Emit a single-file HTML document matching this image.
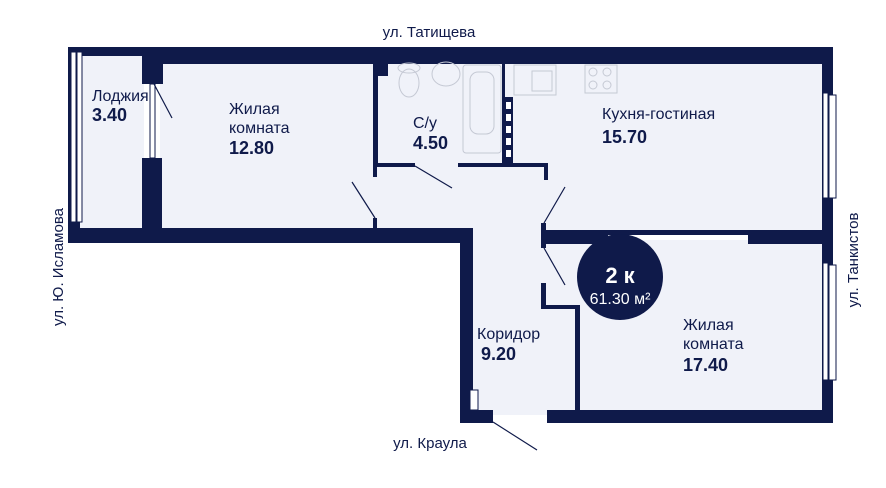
<!DOCTYPE html>
<html><head><meta charset="utf-8"><style>
html,body{margin:0;padding:0;background:#fff;}
svg{display:block;}
text{font-family:"Liberation Sans","DejaVu Sans",sans-serif;fill:#0f1a4a;}
</style></head><body>
<svg width="886" height="488" viewBox="0 0 886 488" xmlns="http://www.w3.org/2000/svg">
<rect width="886" height="488" fill="#fff"/>
<!-- floors -->
<g fill="#f0f2f9">
<rect x="78" y="56" width="66" height="172"/>
<rect x="160" y="62" width="665" height="170"/>
<rect x="470" y="225" width="110" height="190"/>
<rect x="575" y="240" width="250" height="172"/>
</g>
<g fill="#0f1a4a">
<rect x="68" y="47" width="765" height="9"/>
<rect x="142" y="47" width="691" height="17"/>
<rect x="68" y="47" width="12" height="196"/>
<rect x="68" y="228" width="405" height="15"/>
<rect x="142" y="56" width="21" height="28"/>
<rect x="142" y="158" width="20" height="72"/>
<rect x="373" y="62" width="5" height="105"/>
<rect x="378" y="62" width="10" height="14"/>
<rect x="373" y="163" width="42" height="4"/>
<rect x="458" y="163" width="90" height="4"/>
<rect x="544" y="163" width="4" height="17"/>
<rect x="373" y="167" width="4" height="10"/>
<rect x="373" y="218" width="4" height="12"/>
<rect x="502" y="62" width="3" height="103"/>
<rect x="505" y="97" width="8" height="68"/>
<rect x="460" y="228" width="13" height="195"/>
<rect x="460" y="410" width="33" height="13"/>
<rect x="547" y="410" width="286" height="13"/>
<rect x="822" y="47" width="11" height="376"/>
<rect x="541" y="230" width="67" height="14"/>
<rect x="608" y="230" width="140" height="5"/>
<rect x="748" y="230" width="85" height="14"/>
<rect x="541" y="223" width="5" height="25"/>
<rect x="541" y="283" width="5" height="26"/>
<rect x="541" y="305" width="39" height="4"/>
<rect x="575" y="305" width="5" height="110"/>
</g>
<!-- windows -->
<g fill="#fff" stroke="#0f1a4a" stroke-width="1">
<rect x="71" y="52" width="5" height="170"/>
<rect x="77" y="52" width="5" height="170"/>
<rect x="150" y="84" width="5" height="74"/>
<rect x="823" y="93" width="5" height="105"/>
<rect x="829" y="95" width="7" height="103"/>
<rect x="823" y="263" width="5" height="117"/>
<rect x="829" y="265" width="7" height="115"/>
<rect x="470" y="390" width="8" height="20"/>
</g>
<g fill="#fff"><rect x="506" y="102" width="5" height="7"/><rect x="506" y="114" width="5" height="7"/><rect x="506" y="126" width="5" height="7"/><rect x="506" y="138" width="5" height="7"/><rect x="506" y="150" width="5" height="7"/></g>
<g stroke="#0f1a4a" stroke-width="1.2">
<line x1="154" y1="84" x2="172" y2="118"/>
<line x1="375" y1="218" x2="352" y2="182"/>
<line x1="415" y1="166" x2="452" y2="188"/>
<line x1="544" y1="223" x2="565" y2="187"/>
<line x1="544" y1="248" x2="565" y2="285"/>
<line x1="493" y1="422" x2="537" y2="450"/>
</g>
<g fill="none" stroke="#c5c9d4" stroke-width="1">
<ellipse cx="409" cy="83" rx="10" ry="14"/><ellipse cx="409" cy="68" rx="11" ry="5"/>
<ellipse cx="446" cy="74" rx="14" ry="12"/>
<rect x="463" y="65" width="38" height="88" rx="3"/><rect x="470" y="72" width="24" height="62" rx="8"/>
<rect x="514" y="65" width="42" height="30"/><rect x="532" y="71" width="20" height="20"/>
<rect x="585" y="65" width="32" height="28"/>
<circle cx="593" cy="72" r="4"/><circle cx="607" cy="72" r="4"/><circle cx="593" cy="85" r="4"/><circle cx="607" cy="85" r="4"/>
</g>
<circle cx="620" cy="277" r="43" fill="#0f1a4a"/>
<text x="620" y="283" font-size="22" font-weight="bold" text-anchor="middle" style="fill:#fff">2 к</text>
<text x="620" y="304" font-size="16" text-anchor="middle" style="fill:#fff">61.30 м²</text>
<g font-size="16">
<text x="92" y="101">Лоджия</text>
<text x="229" y="114">Жилая</text>
<text x="229" y="133">комната</text>
<text x="413" y="128">С/у</text>
<text x="602" y="119">Кухня-гостиная</text>
<text x="477" y="339">Коридор</text>
<text x="683" y="330">Жилая</text>
<text x="683" y="349">комната</text>
</g>
<g font-size="18" font-weight="bold">
<text x="92" y="121">3.40</text>
<text x="229" y="154">12.80</text>
<text x="413" y="149">4.50</text>
<text x="602" y="143">15.70</text>
<text x="481" y="360">9.20</text>
<text x="683" y="371">17.40</text>
</g>
<g font-size="15">
<text x="429" y="37" text-anchor="middle">ул. Татищева</text>
<text x="430" y="448" text-anchor="middle">ул. Краула</text>
<text transform="translate(63,267) rotate(-90)" text-anchor="middle">ул. Ю. Исламова</text>
<text transform="translate(858,260) rotate(-90)" text-anchor="middle">ул. Танкистов</text>
</g>
</svg>
</body></html>
